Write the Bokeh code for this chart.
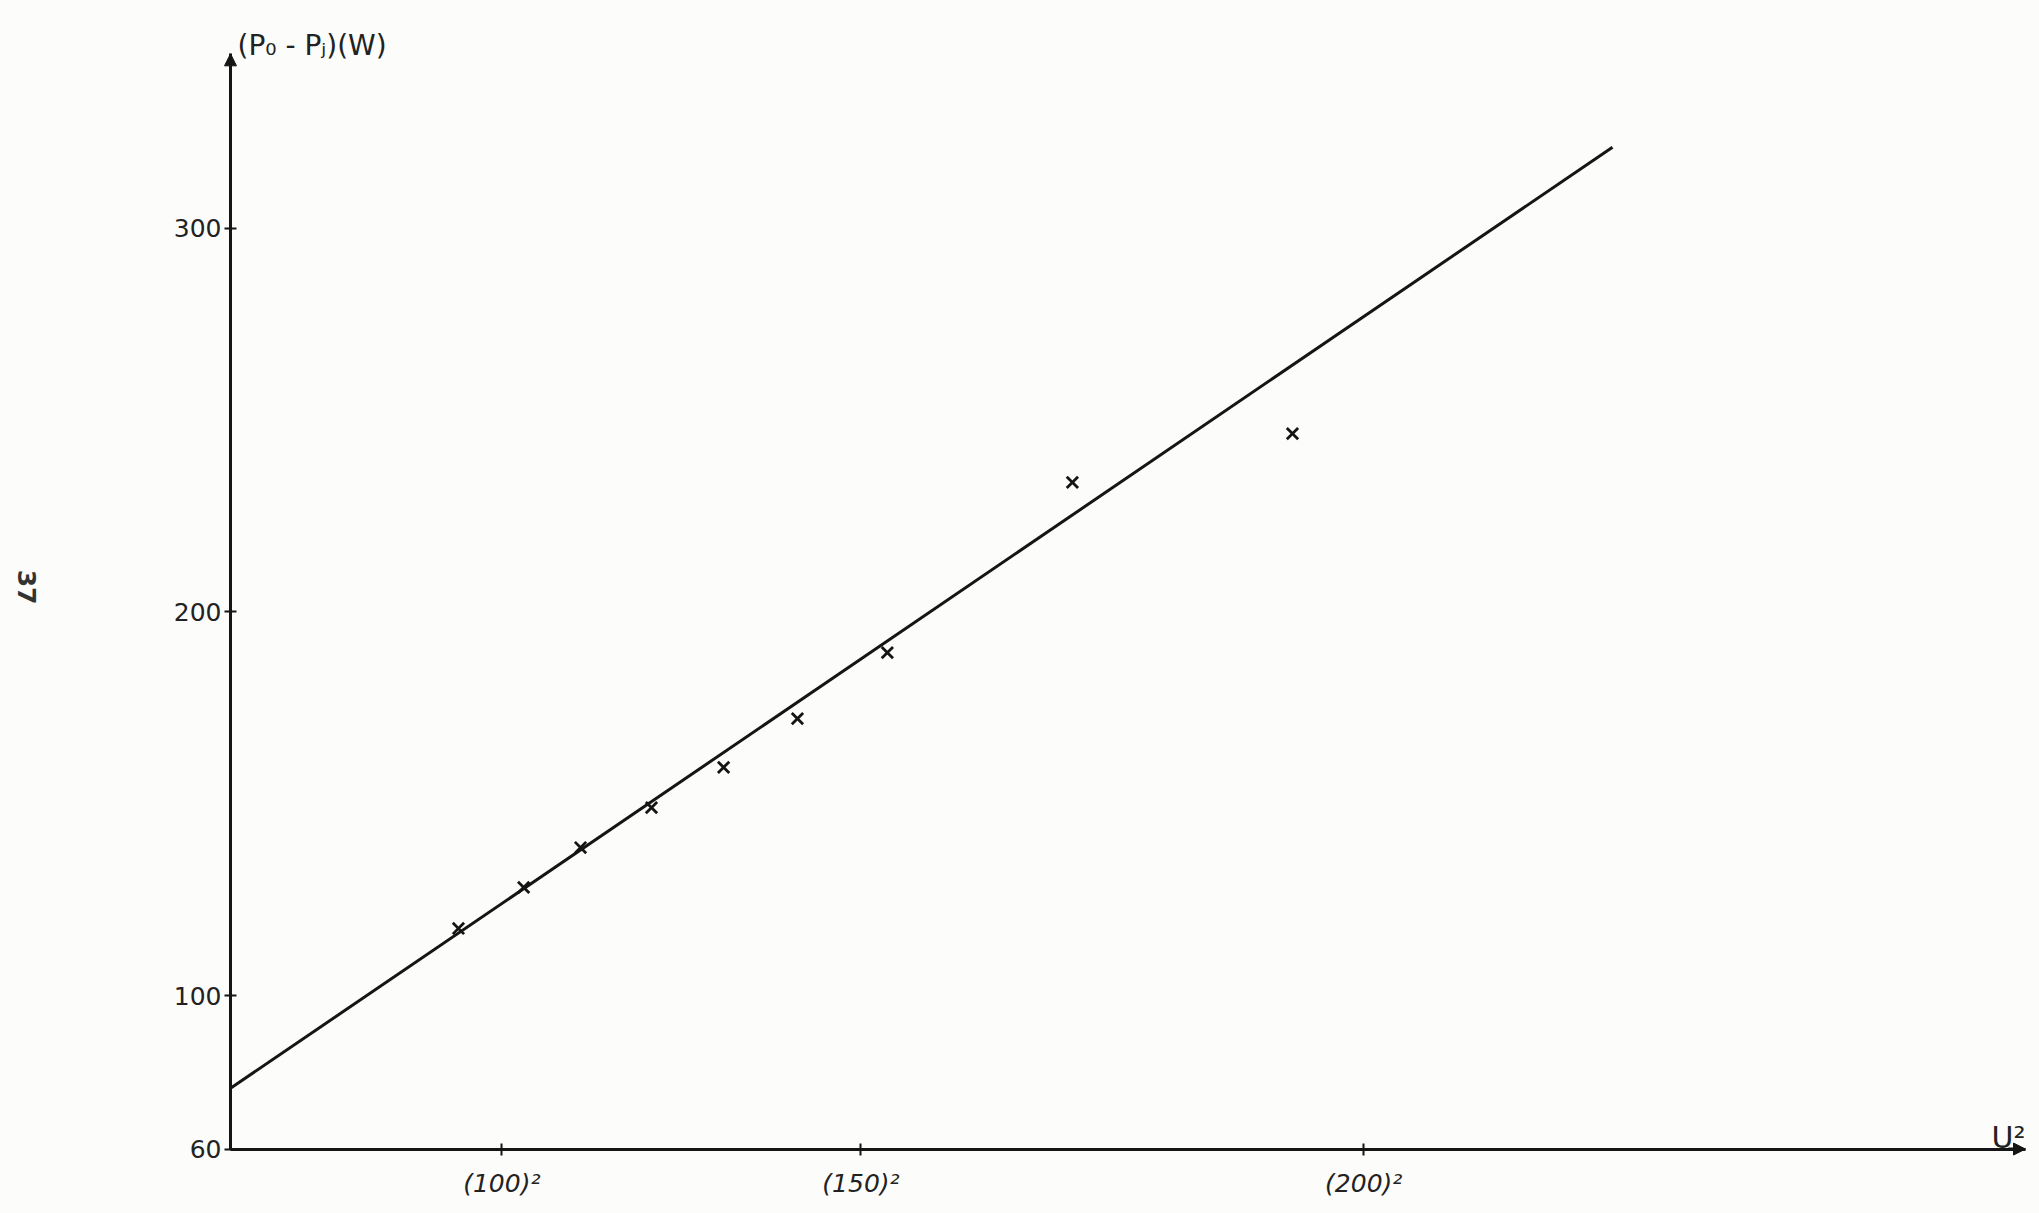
import math
from bokeh.plotting import figure
from bokeh.models import Label, Arrow, NormalHead, FixedTicker, Range1d
from bokeh.embed import file_html
from bokeh.resources import INLINE

# ---- data ----
u_squared = [8490, 10760, 12740, 15210, 17720, 20290, 23420, 29860, 37520]   # U^2 (V^2)
p_diff = [117.5, 128.2, 138.6, 149.0, 159.5, 172.2, 189.4, 233.8, 246.5]     # (P0 - Pj) (W)

fit_slope = 0.00510        # W / V^2
fit_intercept = 73.0       # W
fit_u2_end = 48660

x_tick_voltages = [100, 150, 200]
y_ticks = [60, 100, 200, 300]

# axis extents (where the hand-drawn axes start and end)
x_axis_start, x_axis_end = 557, 63035
y_axis_start, y_axis_end = 60, 345.5

# visible window of the sheet
view_x = (-7449, 63522)
view_y = (43.2, 359.4)

ink = "#151515"
paper = "#fcfcfa"

p = figure(width=2039, height=1213,
           x_range=Range1d(*view_x), y_range=Range1d(*view_y),
           output_backend="svg", toolbar_location=None, title=None,
           min_border=0, min_border_left=0, min_border_right=0,
           min_border_top=0, min_border_bottom=0,
           background_fill_color=paper, border_fill_color=paper)
p.outline_line_color = None
p.grid.visible = False

# axes, drawn in place inside the sheet
p.xaxis.fixed_location = y_axis_start
p.xaxis.bounds = (x_axis_start, x_axis_end)
p.yaxis.fixed_location = x_axis_start
p.yaxis.bounds = (y_axis_start, y_axis_end)

for ax in (p.xaxis, p.yaxis):
    ax.axis_line_color = ink
    ax.axis_line_width = 3
    ax.major_tick_line_color = ink
    ax.major_tick_line_width = 2
    ax.major_tick_in = 6
    ax.major_tick_out = 6
    ax.minor_tick_line_color = None
    ax.major_label_text_color = "#222222"
    ax.major_label_text_font = "DejaVu Sans"
    ax.major_label_text_font_size = "25px"

p.yaxis.ticker = FixedTicker(ticks=y_ticks)
p.yaxis.major_label_standoff = 3

x_ticks = [v ** 2 for v in x_tick_voltages]
p.xaxis.ticker = FixedTicker(ticks=x_ticks)
p.xaxis.major_label_overrides = {t: f"({v})²" for t, v in zip(x_ticks, x_tick_voltages)}
p.xaxis.major_label_text_font_style = "italic"
p.xaxis.major_label_standoff = 14

# fitted straight line
fit_u2 = [x_axis_start, fit_u2_end]
fit_p = [fit_intercept + fit_slope * u for u in fit_u2]
p.line(fit_u2, fit_p, line_color=ink, line_width=3)

# measured points
p.scatter(u_squared, p_diff, marker="x", size=16, line_color=ink, line_width=2.8)

# arrow heads on the axes
p.add_layout(Arrow(end=NormalHead(size=12, fill_color=ink, line_color=ink),
                   x_start=x_axis_start, y_start=y_axis_end - 5,
                   x_end=x_axis_start, y_end=y_axis_end,
                   line_color=ink, line_width=3))
p.add_layout(Arrow(end=NormalHead(size=12, fill_color=ink, line_color=ink),
                   x_start=x_axis_end - 600, y_start=y_axis_start,
                   x_end=x_axis_end, y_end=y_axis_start,
                   line_color=ink, line_width=3))

# axis titles
p.add_layout(Label(x=x_axis_start, y=y_axis_end, text="(P₀ - Pⱼ)(W)", x_offset=7, y_offset=8,
                   text_font="DejaVu Sans", text_font_size="28px", text_color="#222222",
                   text_baseline="alphabetic", text_align="left"))
p.add_layout(Label(x=x_axis_end, y=y_axis_start, text="U²", x_offset=-34, y_offset=12,
                   text_font="DejaVu Sans", text_font_size="30px", text_color="#222222",
                   text_baseline="alphabetic", text_align="left"))
# page number written sideways in the margin
p.add_layout(Label(x=view_x[0], y=206.5, text="37", x_offset=26, angle=-math.pi / 2,
                   text_font="DejaVu Sans", text_font_size="25px", text_color="#333333",
                   text_font_style="bold",
                   text_baseline="middle", text_align="center"))

open("out.html", "w").write(file_html(p, INLINE))
